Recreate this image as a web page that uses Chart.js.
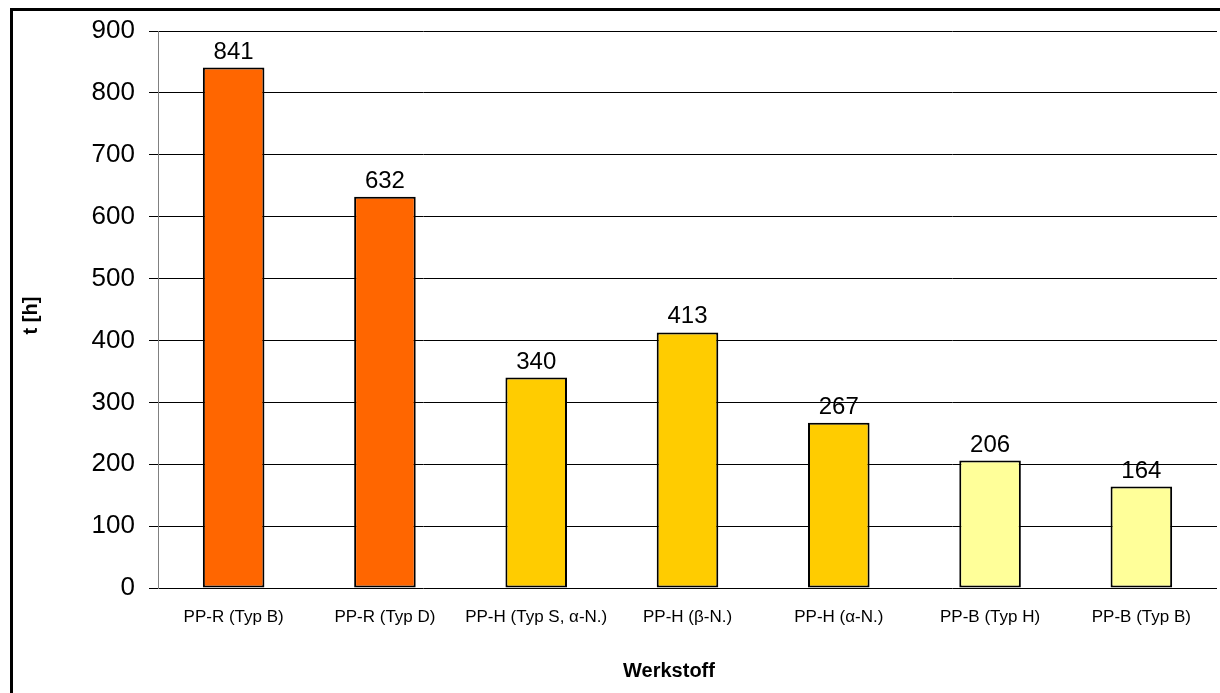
<!DOCTYPE html>
<html>
<head>
<meta charset="utf-8">
<script src="https://cdn.jsdelivr.net/npm/chart.js@4"></script>
<style>
    html, body { margin: 0; padding: 0; background: #fff; }
    #wrap { width: 1220px; height: 693px; }
</style>
</head>
<body>
<div id="wrap"><canvas id="chart"></canvas></div>
<script>
// --- Data ---
const categories = ['PP-R (Typ B)', 'PP-R (Typ D)', 'PP-H (Typ S, α-N.)', 'PP-H (β-N.)', 'PP-H (α-N.)', 'PP-B (Typ H)', 'PP-B (Typ B)'];
const hours = [841, 632, 340, 413, 267, 206, 164];
const barColors = ['#FF6600', '#FF6600', '#FFCC00', '#FFCC00', '#FFCC00', '#FFFF99', '#FFFF99'];
const yTicks = [0, 100, 200, 300, 400, 500, 600, 700, 800, 900];
const xTitle = 'Werkstoff';
const yTitle = 't [h]';

const FONT = '"Liberation Sans", Arial, sans-serif';

// outer frame + axis titles (placed like the original Excel chart)
const framePlugin = {
    id: 'frame',
    afterDraw(chart) {
        const ctx = chart.ctx;
        const area = chart.chartArea;
        ctx.save();
        ctx.strokeStyle = '#000';
        ctx.lineWidth = 3;
        ctx.strokeRect(11.5, 9.5, chart.width + 20, chart.height + 20);

        ctx.fillStyle = '#000';
        ctx.font = 'bold 20px ' + FONT;
        ctx.textAlign = 'center';
        ctx.textBaseline = 'middle';
        ctx.fillText(xTitle, area.left + 511, 671);

        ctx.translate(31, (area.top + area.bottom) / 2 + 6);
        ctx.rotate(-Math.PI / 2);
        ctx.fillText(yTitle, 0, 0);
        ctx.restore();
    }
};

// value labels above the bars
const valueLabels = {
    id: 'valueLabels',
    afterDatasetsDraw(chart) {
        const ctx = chart.ctx;
        const meta = chart.getDatasetMeta(0);
        ctx.save();
        ctx.font = '24px ' + FONT;
        ctx.fillStyle = '#000';
        ctx.textAlign = 'center';
        ctx.textBaseline = 'alphabetic';
        meta.data.forEach((bar, i) => {
            ctx.fillText(String(hours[i]), bar.x, bar.y - 9);
        });
        ctx.restore();
    }
};

new Chart(document.getElementById('chart'), {
    type: 'bar',
    data: {
        labels: categories,
        datasets: [{
            data: hours,
            backgroundColor: barColors,
            borderColor: '#000',
            borderWidth: 2,
            borderSkipped: false,
            categoryPercentage: 1,
            barPercentage: 0.407
        }]
    },
    options: {
        responsive: true,
        maintainAspectRatio: false,
        animation: false,
        events: [],
        layout: { padding: { top: 31, right: 3, left: 0, bottom: 0 } },
        plugins: {
            legend: { display: false },
            tooltip: { enabled: false }
        },
        scales: {
            x: {
                grid: { display: false, drawTicks: false },
                border: { display: false },
                ticks: {
                    color: '#000',
                    font: { family: FONT, size: 17 },
                    padding: 19,
                    maxRotation: 0,
                    autoSkip: false
                },
                afterFit(scale) { scale.height = 105; }
            },
            y: {
                min: 0,
                max: 900,
                afterBuildTicks(scale) { scale.ticks = yTicks.map(v => ({ value: v })); },
                grid: { color: '#000', lineWidth: 1, tickLength: 9, drawTicks: true },
                border: { display: true, color: '#808080', width: 1 },
                ticks: {
                    color: '#000',
                    font: { family: FONT, size: 26 },
                    padding: 14
                },
                afterFit(scale) { scale.width = 158; }
            }
        }
    },
    plugins: [framePlugin, valueLabels]
});
</script>
</body>
</html>
